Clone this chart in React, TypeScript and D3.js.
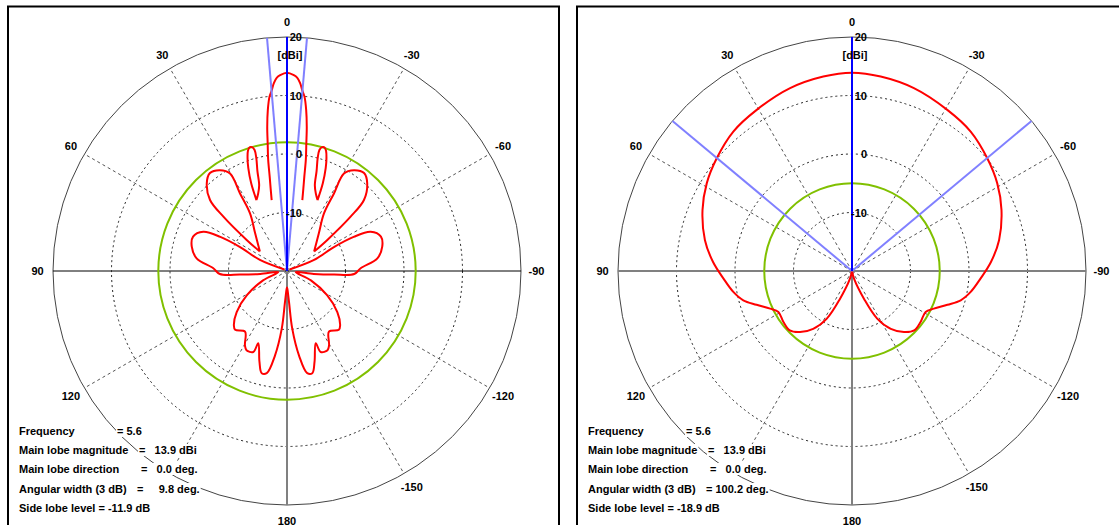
import { useRef, useEffect } from 'react';
import * as d3 from 'd3';

// [angle in degrees (positive = counter-clockwise from 0), gain in dBi]
type Pt = [number, number];

const angleTicks = [0, 30, 60, 90, 120, 150, 180, -150, -120, -90, -60, -30];
// the 150 label sits under the info block in the original, so it is not shown
const hiddenAngleLabels = [150];
const ringTicks = [20, 10, 0, -10];
const infoLabels = ['Frequency', 'Main lobe magnitude', 'Main lobe direction', 'Angular width (3 dB)'];

// frequency, main lobe magnitude, main lobe direction, 3 dB width, side lobe level
const leftStats = [5.6, 13.9, 0.0, 9.8, -11.9];
const rightStats = [5.6, 13.9, 0.0, 100.2, -18.9];

const leftMainLobe: Pt[] = [
  [-12.2, -7.6], [-11.2, -5.6], [-10.4, -3.6], [-9.6, -0.7], [-8.6, 2.1], [-7.8, 4.9], [-6.8, 7.7],
  [-5.7, 10.0], [-4.9, 10.9], [-4, 12.2], [-3, 13.1], [-2, 13.5], [0, 13.9], [2, 13.5], [3, 13.1],
  [4, 12.2], [4.9, 10.9], [5.7, 10.0], [6.8, 7.7], [7.8, 4.9], [8.6, 2.1], [9.6, -0.7], [10.4, -3.6],
  [11.2, -5.6], [12.2, -7.6],
];
const leftLobe2L: Pt[] = [
  [23.3, -6.8], [20.5, -5.9], [18, -4.6], [16.5, -2.2], [15.2, 0], [15, 1.4], [15.8, 2.0], [16.8, 2.1],
  [18, 1.6], [19.3, 0.4], [20.6, -1.2], [22.2, -3.8], [23.3, -6.8],
];
const leftLobe2R: Pt[] = [
  [-23.3, -6.8], [-20.5, -5.9], [-18, -4.6], [-16.5, -2.2], [-15.2, 0], [-15, 1.4], [-15.8, 2.0], [-16.8, 2.1],
  [-18, 1.6], [-19.3, 0.4], [-20.6, -1.2], [-22.2, -3.8], [-23.3, -6.8],
];
const leftLobe3L: Pt[] = [
  [54.4, -14.3], [40.3, -11.6], [32.7, -8.3], [31.2, -4.5], [30.3, -0.7], [33.6, 0.7], [38.2, 1.3],
  [42.5, 0.3], [47.3, -2.1], [49.5, -5.7], [52.4, -11.3], [54.4, -14.3],
];
const leftLobe3R: Pt[] = [
  [-54.4, -14.3], [-40.3, -11.6], [-32.7, -8.3], [-31.2, -4.5], [-30.3, -0.7], [-33.6, 0.7], [-38.2, 1.3],
  [-42.5, 0.3], [-47.3, -2.1], [-49.5, -5.7], [-52.4, -11.3], [-54.4, -14.3],
];
const leftRearLobes: Pt[] = [
  [60, -19.5], [67.8, -15], [63, -11], [62.9, -7.2], [64.9, -4.2], [69.9, -2.9], [75.7, -3.2], [82, -4.4],
  [87.9, -7.4], [92.6, -8.5], [94.3, -11.9], [96.3, -15.4], [97, -18.5], [111.4, -15.6], [121.1, -12],
  [129.2, -8.9], [135.7, -7], [138.6, -6.6], [145.3, -7.4], [150.5, -5.4], [152.9, -4.8], [157.4, -5],
  [158.3, -6.7], [163.1, -3.8], [166.1, -2], [168.8, -2.2], [171.9, -5.4], [174.8, -10.1], [176.3, -14.7],
  [178.5, -16.8], [180, -17.2],
  [181.5, -16.8], [183.7, -14.7], [185.2, -10.1], [188.1, -5.4], [191.2, -2.2], [193.9, -2], [196.9, -3.8],
  [201.7, -6.7], [202.6, -5], [207.1, -4.8], [209.5, -5.4], [214.7, -7.4], [221.4, -6.6], [224.3, -7],
  [230.8, -8.9], [238.9, -12], [248.6, -15.6], [263, -18.5], [263.7, -15.4], [265.7, -11.9], [267.4, -8.5],
  [272.1, -7.4], [278, -4.4], [284.3, -3.2], [290.1, -2.9], [295.1, -4.2], [297.1, -7.2], [297, -11],
  [292.2, -15], [300, -19.5],
];

const rightPattern: Pt[] = [
  [-180, -20], [-165, -18.6], [-156.6, -14.8], [-152.1, -10.8], [-146.1, -8.1], [-139.6, -6.3],
  [-133.7, -5.3], [-126.6, -5.4], [-119.1, -5.6], [-114.7, -4.6], [-109.5, -2.7], [-105.1, -0.75],
  [-100, 0.6], [-93.4, 2.0], [-86.3, 3.8], [-78.1, 5.7], [-67.8, 7.6], [-58.9, 9], [-50.2, 10.1],
  [-40.4, 11.3], [-30.6, 12], [-18.7, 13], [-8.4, 13.6], [0, 13.9], [8.4, 13.6], [18.7, 13], [30.6, 12],
  [40.4, 11.3], [50.2, 10.1], [58.9, 9], [67.8, 7.6], [78.1, 5.7], [86.3, 3.8], [93.4, 2.0], [100, 0.6],
  [105.1, -0.75], [109.5, -2.7], [114.7, -4.6], [119.1, -5.6], [126.6, -5.4], [133.7, -5.3],
  [139.6, -6.3], [146.1, -8.1], [152.1, -10.8], [156.6, -14.8], [165, -18.6], [180, -20],
];

const W = 1119;
const H = 525;
const R = 234;
const FONT = '"Liberation Sans", Arial, sans-serif';

const panels = [
  { frameX: 7, cx: 287, cy: 271, hAxis: '#000', hWidth: 1, stats: leftStats,
    traces: [leftMainLobe, leftLobe2L, leftLobe2R, leftLobe3L, leftLobe3R, leftRearLobes] },
  { frameX: 576, cx: 852, cy: 271, hAxis: '#808080', hWidth: 2, stats: rightStats,
    traces: [rightPattern] },
];

const App = () => {
  const svgRef = useRef<SVGSVGElement>(null);

  useEffect(() => {
    if (!svgRef.current) return;
    const svg = d3.select(svgRef.current);
    svg.selectAll('*').remove();

    svg.append('rect').attr('width', W).attr('height', H).attr('fill', '#fff');

    panels.forEach(p => {
      const g = svg.append('g');
      const rScale = d3.scaleLinear().domain([-20, 20]).range([0, R]).clamp(true);
      const pos = (deg: number, rad: number) => [
        p.cx - rad * Math.sin((deg * Math.PI) / 180),
        p.cy - rad * Math.cos((deg * Math.PI) / 180),
      ];

      // frame
      g.append('rect')
        .attr('x', p.frameX + 1)
        .attr('y', 6.5)
        .attr('width', p.frameX === 7 ? 551 : 600)
        .attr('height', 600)
        .attr('fill', 'none')
        .attr('stroke', '#000')
        .attr('stroke-width', 2);

      // dashed rings
      ringTicks.filter(v => v < 20).forEach(v => {
        g.append('circle')
          .attr('cx', p.cx).attr('cy', p.cy).attr('r', rScale(v))
          .attr('fill', 'none').attr('stroke', '#222').attr('stroke-width', 1)
          .attr('stroke-dasharray', '2,3');
      });
      // outer ring
      g.append('circle')
        .attr('cx', p.cx).attr('cy', p.cy).attr('r', rScale(20))
        .attr('fill', 'none').attr('stroke', '#444').attr('stroke-width', 1);

      // spokes
      angleTicks.filter(a => a % 90 !== 0).forEach(a => {
        const [x, y] = pos(a, R);
        g.append('line')
          .attr('x1', p.cx).attr('y1', p.cy).attr('x2', x).attr('y2', y)
          .attr('stroke', '#555').attr('stroke-width', 1).attr('stroke-dasharray', '3,3');
      });

      // axes
      g.append('line')
        .attr('x1', p.cx - R).attr('y1', p.cy).attr('x2', p.cx + R).attr('y2', p.cy)
        .attr('stroke', p.hAxis).attr('stroke-width', p.hWidth);
      g.append('line')
        .attr('x1', p.cx).attr('y1', p.cy - R).attr('x2', p.cx).attr('y2', p.cy + R)
        .attr('stroke', '#808080').attr('stroke-width', 2);

      const [, mag, dir, width, sll] = p.stats;

      // side lobe level circle
      g.append('circle')
        .attr('cx', p.cx).attr('cy', p.cy).attr('r', rScale(mag + sll))
        .attr('fill', 'none').attr('stroke', '#80c000').attr('stroke-width', 2);

      // pattern
      const line = d3.lineRadial<Pt>()
        .angle(d => (-d[0] * Math.PI) / 180)
        .radius(d => rScale(d[1]))
        .curve(d3.curveCatmullRom.alpha(0.5));
      p.traces.forEach(tr => {
        g.append('path')
          .attr('transform', `translate(${p.cx},${p.cy})`)
          .attr('d', line(tr) as string)
          .attr('fill', 'none')
          .attr('stroke', '#ff0000')
          .attr('stroke-width', 2)
          .attr('stroke-linejoin', 'round');
      });

      // half-power beam edges and main direction
      [dir + width / 2, dir - width / 2].forEach(a => {
        const [x, y] = pos(a, R);
        g.append('line')
          .attr('x1', p.cx).attr('y1', p.cy).attr('x2', x).attr('y2', y)
          .attr('stroke', '#8080ff').attr('stroke-width', 2);
      });
      {
        const [x, y] = pos(dir, R);
        g.append('line')
          .attr('x1', p.cx).attr('y1', p.cy).attr('x2', x).attr('y2', y)
          .attr('stroke', '#0000ff').attr('stroke-width', 2);
      }

      const txt = (x: number, y: number, s: string, anchor = 'start') =>
        g.append('text')
          .attr('x', x).attr('y', y)
          .attr('text-anchor', anchor)
          .attr('dominant-baseline', 'central')
          .attr('font-family', FONT)
          .attr('font-size', 11)
          .attr('font-weight', 'bold')
          .attr('fill', '#000')
          .style('white-space', 'pre')
          .text(s);

      // angle labels
      angleTicks.filter(a => !hiddenAngleLabels.includes(a)).forEach(a => {
        const [x, y] = pos(a, 249.5);
        txt(x, y, String(a), 'middle');
      });

      // ring labels
      ringTicks.forEach(v => txt(p.cx + 15, p.cy - rScale(v), String(v), 'end'));
      txt(p.cx + 3, 55, '[dBi]', 'middle');

      // info block with opaque text backgrounds
      const run = (x: number, y: number, s: string) => {
        const t = txt(x, y, s);
        const b = (t.node() as SVGTextElement).getBBox();
        g.insert('rect', () => t.node() as Element)
          .attr('x', b.x - 1).attr('y', b.y)
          .attr('width', b.width + 2).attr('height', b.height)
          .attr('fill', '#fff');
      };
      const rowsY = [431, 450, 469, 489, 508];
      const valueX = [110, 132, 134, 130];
      const pad = (v: number, n: number) => v.toFixed(1).padStart(n, '\u2007');
      const values = [
        `= ${p.stats[0].toFixed(1)}`,
        `= ${pad(mag, 5)} dBi`,
        `= ${pad(dir, 4)} deg.`,
        `= ${pad(width, 5)} deg.`,
      ];
      infoLabels.forEach((lab, i) => {
        run(p.frameX + 12, rowsY[i], lab);
        run(p.frameX + valueX[i], rowsY[i], values[i]);
      });
      run(p.frameX + 12, rowsY[4], `Side lobe level = ${sll.toFixed(1)} dB`);
    });
  }, []);

  return (
    <svg
      ref={svgRef}
      width={W}
      height={H}
      style={{ position: 'absolute', left: 0, top: 0, display: 'block' }}
    />
  );
};

export default App;
